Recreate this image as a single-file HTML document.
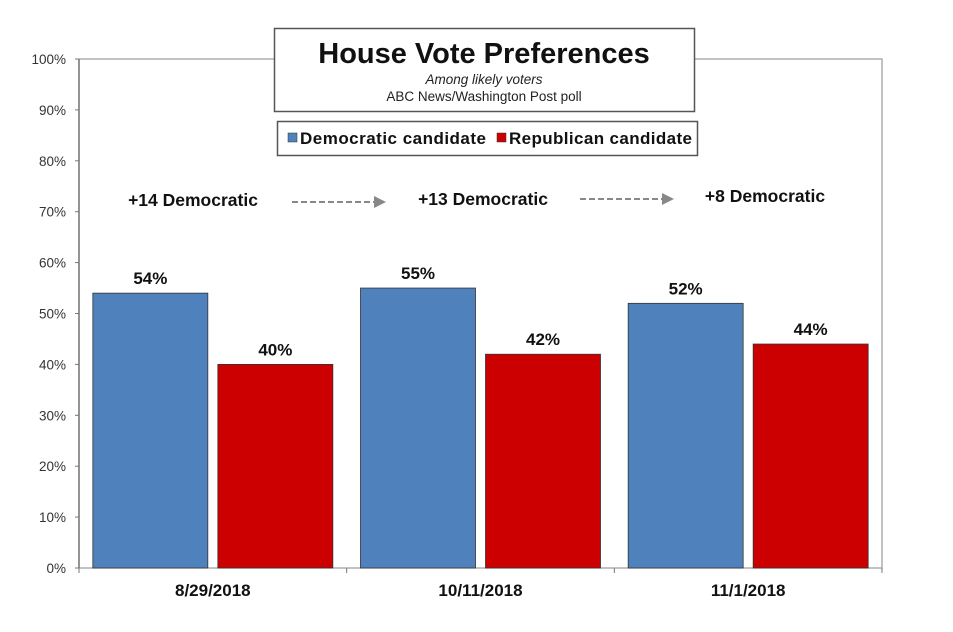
<!DOCTYPE html>
<html><head><meta charset="utf-8"><style>
body{margin:0;background:#fff;}
svg{display:block;font-family:"Liberation Sans",Arial,sans-serif;}
</style></head><body>
<svg id="chart" width="953" height="632" viewBox="0 0 953 632">
<g id="axes"></g>
<g id="bars"></g>
<g id="overlay">
  <rect x="274.5" y="28.5" width="420" height="83" fill="#fff" stroke="#555" stroke-width="1.5"/>
  <text x="484" y="63" text-anchor="middle" font-size="29" font-weight="bold" fill="#111">House Vote Preferences</text>
  <text x="484" y="84" text-anchor="middle" font-size="13.5" font-style="italic" fill="#222">Among likely voters</text>
  <text x="484" y="101" text-anchor="middle" font-size="13.5" fill="#222">ABC News/Washington  Post poll</text>
  <g>
    <rect x="277.5" y="121.5" width="420" height="34" fill="#fff" stroke="#555" stroke-width="1.5"/>
    <g>
      <rect x="288" y="133" width="9" height="9" fill="#4f81bd" stroke="#333" stroke-width="0.5"/>
      <text x="300" y="144" font-size="17" font-weight="bold" fill="#111" textLength="186">Democratic candidate</text>
    </g>
    <g>
      <rect x="497" y="133" width="9" height="9" fill="#cc0000" stroke="#333" stroke-width="0.5"/>
      <text x="509" y="144" font-size="17" font-weight="bold" fill="#111" textLength="183">Republican candidate</text>
    </g>
  </g>
  <text x="193" y="206" text-anchor="middle" font-size="17.5" font-weight="bold" fill="#111">+14 Democratic</text>
  <text x="483" y="205" text-anchor="middle" font-size="17.5" font-weight="bold" fill="#111">+13 Democratic</text>
  <text x="765" y="202" text-anchor="middle" font-size="17.5" font-weight="bold" fill="#111">+8 Democratic</text>
  <g>
    <line x1="292" y1="202" x2="374" y2="202" stroke="#888" stroke-width="2" stroke-dasharray="6,3"/>
    <polygon points="374,196 386,202 374,208" fill="#888"/>
  </g>
  <g>
    <line x1="580" y1="199" x2="662" y2="199" stroke="#888" stroke-width="2" stroke-dasharray="6,3"/>
    <polygon points="662,193 674,199 662,205" fill="#888"/>
  </g>
</g>
</svg>
<script>
const categories = ["8/29/2018","10/11/2018","11/1/2018"];
const demValues = [54,55,52];
const repValues = [40,42,44];
const yTicks = [0,10,20,30,40,50,60,70,80,90,100];

const NS="http://www.w3.org/2000/svg";
const X0=79, X1=882, Y0=568, Y1=59;
const catW=(X1-X0)/categories.length;
function y(v){return Y0-(v/100)*(Y0-Y1);}
function catX(i){return X0+i*catW;}
function mk(tag,attrs,parent,text){const e=document.createElementNS(NS,tag);for(const k in attrs)e.setAttribute(k,attrs[k]);if(text!==undefined)e.textContent=text;parent.appendChild(e);return e;}
const axes=document.getElementById('axes'), bars=document.getElementById('bars');

const frame=mk('rect',{x:X0,y:Y1,width:X1-X0,height:Y0-Y1,fill:'none',stroke:'#999','stroke-width':1.2},axes);


const yAxis=mk('line',{x1:X0,y1:Y1,x2:X0,y2:Y0,stroke:'#777','stroke-width':1.5},axes);


yTicks.forEach(t=>{
  const tk=mk('line',{x1:X0-4,y1:y(t),x2:X0,y2:y(t),stroke:'#777'},axes);
  
  
  const lb=mk('text',{x:X0-13,y:y(t)+5,'text-anchor':'end','font-size':13.5,fill:'#333'},axes,t+'%');
  
  
});
for(let i=0;i<=categories.length;i++){
  const tk=mk('line',{x1:catX(i),y1:Y0,x2:catX(i),y2:Y0+5,stroke:'#777'},axes);
  
  
}
const barW=115, gap=10;
categories.forEach((c,i)=>{
  const cx=catX(i)+catW/2;
  const lb=mk('text',{x:cx,y:Y0+28,'text-anchor':'middle','font-size':17,'font-weight':'bold',fill:'#111'},axes,c);
  
  
  [[demValues[i],'#4f81bd',cx-gap/2-barW,'dem'],[repValues[i],'#cc0000',cx+gap/2,'rep']].forEach(([v,col,bx,s])=>{
    const r=mk('rect',{x:bx,y:y(v),width:barW,height:Y0-y(v),fill:col,stroke:'#333','stroke-width':0.8},bars);
    
    
    const t=mk('text',{x:bx+barW/2,y:y(v)-9,'text-anchor':'middle','font-size':17,'font-weight':'bold',fill:'#111'},bars,v+'%');
    
    
  });
});
</script>
</body></html>
